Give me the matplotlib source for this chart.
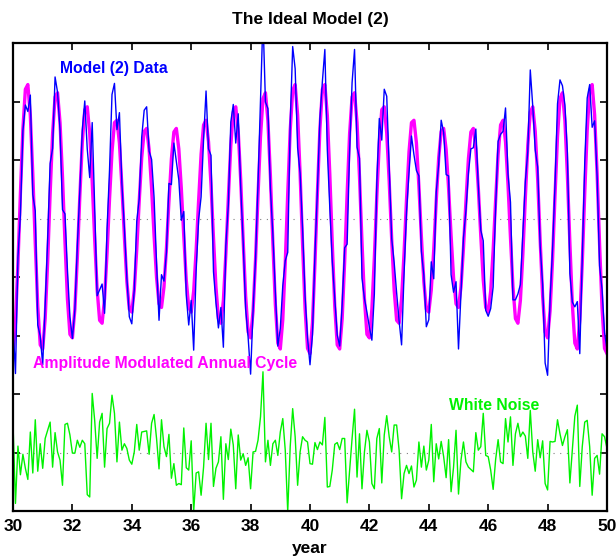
import numpy as np
import matplotlib
matplotlib.use("Agg")
import matplotlib.pyplot as plt

# monthly samples, year 30 .. 50
years = np.arange(241) / 12.0 + 30

# amplitude modulated annual cycle (magenta)
cycle = [
    2.69, 3.22, 4.23, 5.44, 6.53, 7.21, 7.29, 6.76, 5.76, 4.57, 3.50, 2.84,
    2.77, 3.29, 4.26, 5.42, 6.45, 7.08, 7.15, 6.64, 5.71, 4.60, 3.62, 3.02,
    2.96, 3.45, 4.33, 5.38, 6.30, 6.86, 6.91, 6.46, 5.63, 4.65, 3.78, 3.26,
    3.21, 3.63, 4.41, 5.33, 6.14, 6.64, 6.68, 6.29, 5.55, 4.69, 3.92, 3.45,
    3.40, 3.78, 4.47, 5.30, 6.04, 6.49, 6.54, 6.18, 5.51, 4.71, 3.99, 3.54,
    3.48, 3.83, 4.49, 5.29, 6.02, 6.48, 6.54, 6.19, 5.52, 4.70, 3.95, 3.48,
    3.40, 3.76, 4.46, 5.31, 6.10, 6.60, 6.68, 6.31, 5.58, 4.67, 3.83, 3.29,
    3.21, 3.60, 4.39, 5.35, 6.25, 6.82, 6.91, 6.49, 5.66, 4.62, 3.67, 3.06,
    2.96, 3.42, 4.30, 5.40, 6.40, 7.05, 7.15, 6.67, 5.73, 4.58, 3.53, 2.87,
    2.77, 3.27, 4.24, 5.43, 6.51, 7.19, 7.29, 6.77, 5.77, 4.56, 3.47, 2.78,
    2.69, 3.22, 4.23, 5.44, 6.53, 7.21, 7.29, 6.76, 5.76, 4.57, 3.50, 2.84,
    2.77, 3.29, 4.26, 5.42, 6.45, 7.08, 7.15, 6.64, 5.71, 4.60, 3.62, 3.02,
    2.96, 3.45, 4.33, 5.38, 6.30, 6.86, 6.91, 6.46, 5.63, 4.65, 3.78, 3.26,
    3.21, 3.63, 4.41, 5.33, 6.14, 6.64, 6.68, 6.29, 5.55, 4.69, 3.92, 3.45,
    3.40, 3.78, 4.47, 5.30, 6.04, 6.49, 6.54, 6.18, 5.51, 4.71, 3.99, 3.54,
    3.48, 3.83, 4.49, 5.29, 6.02, 6.48, 6.54, 6.19, 5.52, 4.70, 3.95, 3.48,
    3.40, 3.76, 4.46, 5.31, 6.10, 6.60, 6.68, 6.31, 5.58, 4.67, 3.83, 3.29,
    3.21, 3.60, 4.39, 5.35, 6.25, 6.82, 6.91, 6.49, 5.66, 4.62, 3.67, 3.06,
    2.96, 3.42, 4.30, 5.40, 6.40, 7.05, 7.15, 6.67, 5.73, 4.58, 3.53, 2.87,
    2.77, 3.27, 4.24, 5.43, 6.51, 7.19, 7.29, 6.77, 5.77, 4.56, 3.47, 2.78,
    2.69,
]

# model (2) data (blue)
model_data = [
    3.19, 2.35, 4.34, 5.06, 6.50, 6.94, 6.83, 7.11, 5.41, 5.13, 3.18, 2.99,
    2.50, 3.53, 4.64, 5.94, 6.20, 7.42, 7.16, 6.51, 5.15, 5.08, 4.12, 3.32,
    2.95, 3.44, 4.54, 5.47, 6.51, 7.01, 6.19, 5.70, 6.64, 5.20, 3.68, 3.78,
    3.88, 3.38, 4.82, 5.83, 7.12, 7.31, 6.52, 6.81, 5.59, 4.84, 3.99, 3.32,
    3.20, 3.79, 4.95, 5.34, 6.39, 6.85, 6.91, 6.15, 6.01, 5.36, 4.23, 3.26,
    4.04, 3.93, 4.42, 5.60, 5.58, 6.29, 5.98, 5.66, 4.97, 5.12, 3.69, 3.18,
    3.60, 2.75, 4.11, 4.98, 5.37, 6.35, 7.18, 6.19, 6.08, 4.09, 3.56, 3.13,
    3.48, 2.80, 4.54, 5.23, 6.65, 6.95, 6.29, 6.79, 5.53, 4.60, 3.45, 2.97,
    2.34, 3.43, 4.32, 5.61, 7.01, 8.43, 6.99, 6.88, 5.51, 4.73, 3.74, 2.82,
    3.12, 3.85, 4.28, 4.42, 6.61, 7.94, 7.56, 6.21, 5.78, 4.83, 3.68, 2.96,
    2.50, 3.02, 4.40, 5.49, 6.71, 7.34, 7.89, 6.17, 5.18, 4.27, 3.64, 3.01,
    2.82, 3.53, 4.50, 4.56, 6.15, 7.32, 7.89, 6.22, 6.03, 3.98, 3.63, 3.40,
    3.14, 2.92, 3.71, 5.62, 6.71, 6.34, 7.21, 7.09, 5.90, 4.66, 4.25, 3.73,
    3.25, 2.84, 4.05, 5.11, 5.78, 6.41, 6.09, 5.82, 5.73, 4.44, 4.03, 3.15,
    3.27, 4.26, 3.97, 5.45, 5.93, 6.68, 6.47, 5.75, 5.73, 4.04, 3.74, 3.92,
    2.77, 3.70, 4.67, 5.13, 5.77, 6.19, 6.21, 6.53, 5.56, 4.80, 4.62, 3.43,
    3.33, 3.46, 3.83, 5.19, 6.32, 6.44, 6.49, 6.89, 5.76, 5.28, 3.61, 3.61,
    3.71, 3.87, 4.74, 5.63, 6.15, 7.54, 6.92, 6.17, 5.88, 4.53, 3.87, 2.53,
    2.32, 3.61, 4.48, 5.59, 6.96, 7.37, 7.27, 6.94, 6.12, 4.06, 3.57, 3.49,
    3.58, 2.69, 4.34, 5.95, 7.06, 7.29, 6.56, 6.67, 5.72, 4.19, 3.79, 3.05,
    2.76,
]

# white noise (green), zero mean
noise = [
    0.50, -0.87, 0.11, -0.38, -0.03, -0.27, -0.46, 0.35, -0.35, 0.56, -0.32, 0.15,
    -0.27, 0.24, 0.38, 0.52, -0.25, 0.34, 0.01, -0.13, -0.56, 0.48, 0.50, 0.30,
    -0.01, -0.01, 0.21, 0.09, 0.21, 0.15, -0.72, -0.76, 1.01, 0.55, -0.10, 0.52,
    0.67, -0.25, 0.41, 0.50, 0.98, 0.67, -0.16, 0.52, 0.04, 0.15, 0.07, -0.13,
    -0.20, 0.01, 0.48, 0.04, 0.35, 0.36, 0.37, -0.03, 0.50, 0.65, 0.24, -0.28,
    0.56, 0.10, -0.07, 0.31, -0.44, -0.19, -0.56, -0.53, -0.55, 0.42, -0.26, -0.30,
    0.20, -1.01, -0.35, -0.33, -0.73, -0.25, 0.50, -0.12, 0.50, -0.58, -0.27, -0.16,
    0.27, -0.80, 0.15, -0.12, 0.40, 0.13, -0.62, 0.30, -0.13, -0.02, -0.22, -0.09,
    -0.62, 0.01, 0.02, 0.21, 0.61, 1.38, -0.16, 0.21, -0.22, 0.15, 0.21, -0.05,
    0.35, 0.58, 0.04, -1.01, 0.10, 0.75, 0.27, -0.56, 0.01, 0.27, 0.21, 0.18,
    -0.19, -0.20, 0.17, 0.05, 0.18, 0.13, 0.60, -0.59, -0.58, -0.30, 0.14, 0.17,
    0.05, 0.24, 0.24, -0.86, -0.30, 0.24, 0.74, -0.42, 0.32, -0.62, 0.01, 0.38,
    0.18, -0.53, -0.62, 0.24, 0.41, -0.52, 0.30, 0.63, 0.27, 0.01, 0.47, 0.47,
    0.04, -0.79, -0.36, -0.22, -0.36, -0.23, -0.59, -0.47, 0.18, -0.25, 0.11, -0.30,
    -0.13, 0.48, -0.50, 0.15, -0.11, 0.19, -0.07, -0.43, 0.22, -0.67, -0.25, 0.38,
    -0.71, -0.13, 0.18, -0.16, -0.25, -0.29, -0.33, 0.34, 0.04, 0.10, 0.67, -0.05,
    -0.07, -0.30, -0.63, -0.12, 0.22, -0.16, -0.19, 0.58, 0.18, 0.61, -0.22, 0.32,
    0.50, 0.27, 0.35, 0.28, -0.10, 0.72, 0.01, -0.32, 0.22, -0.09, 0.20, -0.53,
    -0.64, 0.19, 0.18, 0.19, 0.56, 0.32, 0.12, 0.27, 0.39, -0.52, 0.04, 0.62,
    0.81, -0.58, 0.10, 0.52, 0.55, 0.10, -0.73, -0.10, -0.05, -0.37, 0.32, 0.27,
    0.07,
]

cycle_mean = 5.0
noise_base = 1.0  # noise is drawn shifted down below the cycle

xticks = [30, 32, 34, 36, 38, 40, 42, 44, 46, 48, 50]

plt.rcParams['font.family'] = ['Liberation Sans', 'DejaVu Sans']
plt.rcParams['font.weight'] = 'bold'

fig = plt.figure(figsize=(6.16, 5.58), dpi=100)
ax = fig.add_axes([0.0211, 0.0842, 0.9643, 0.8387])

ax.axhline(cycle_mean, color='gray', linestyle=(0, (1, 5)), linewidth=0.8)
ax.axhline(noise_base, color='gray', linestyle=(0, (1, 5)), linewidth=0.8)

ax.plot(years, cycle, color=(1, 0, 1), linewidth=2.4, solid_joinstyle='round')
ax.plot(years, model_data, color=(0, 0, 1), linewidth=1.0)
ax.plot(years, np.array(noise) + noise_base, color=(0, 0.95, 0), linewidth=1.0)

lbl_size = 11.3
ax.text(31.58, 7.57, 'Model (2) Data', color=(0, 0, 1), fontsize=lbl_size,
        fontweight='bold', va='center', ha='left')
ax.text(30.67, 2.53, 'Amplitude Modulated Annual Cycle', color=(1, 0, 1),
        fontsize=lbl_size, fontweight='bold', va='center', ha='left')
ax.text(44.68, 1.81, 'White Noise', color=(0, 0.95, 0), fontsize=lbl_size,
        fontweight='bold', va='center', ha='left')

ax.set_xlim(30, 50)
ax.set_ylim(0, 8)
ax.set_xticks(xticks)
ax.set_yticks(np.arange(0, 9))
ax.set_yticklabels([])
ax.tick_params(direction='in', length=5, width=1.2, top=True, right=True,
               labelsize=12.5, pad=6)
for lab in ax.get_xticklabels():
    lab.set_fontweight('bold')
for sp in ax.spines.values():
    sp.set_linewidth(1.6)

ax.set_title('The Ideal Model (2)', fontsize=12.5, fontweight='bold', pad=14)
ax.set_xlabel('year', fontsize=12.5, fontweight='bold', labelpad=5)

fig.savefig('out.png', dpi=100)
